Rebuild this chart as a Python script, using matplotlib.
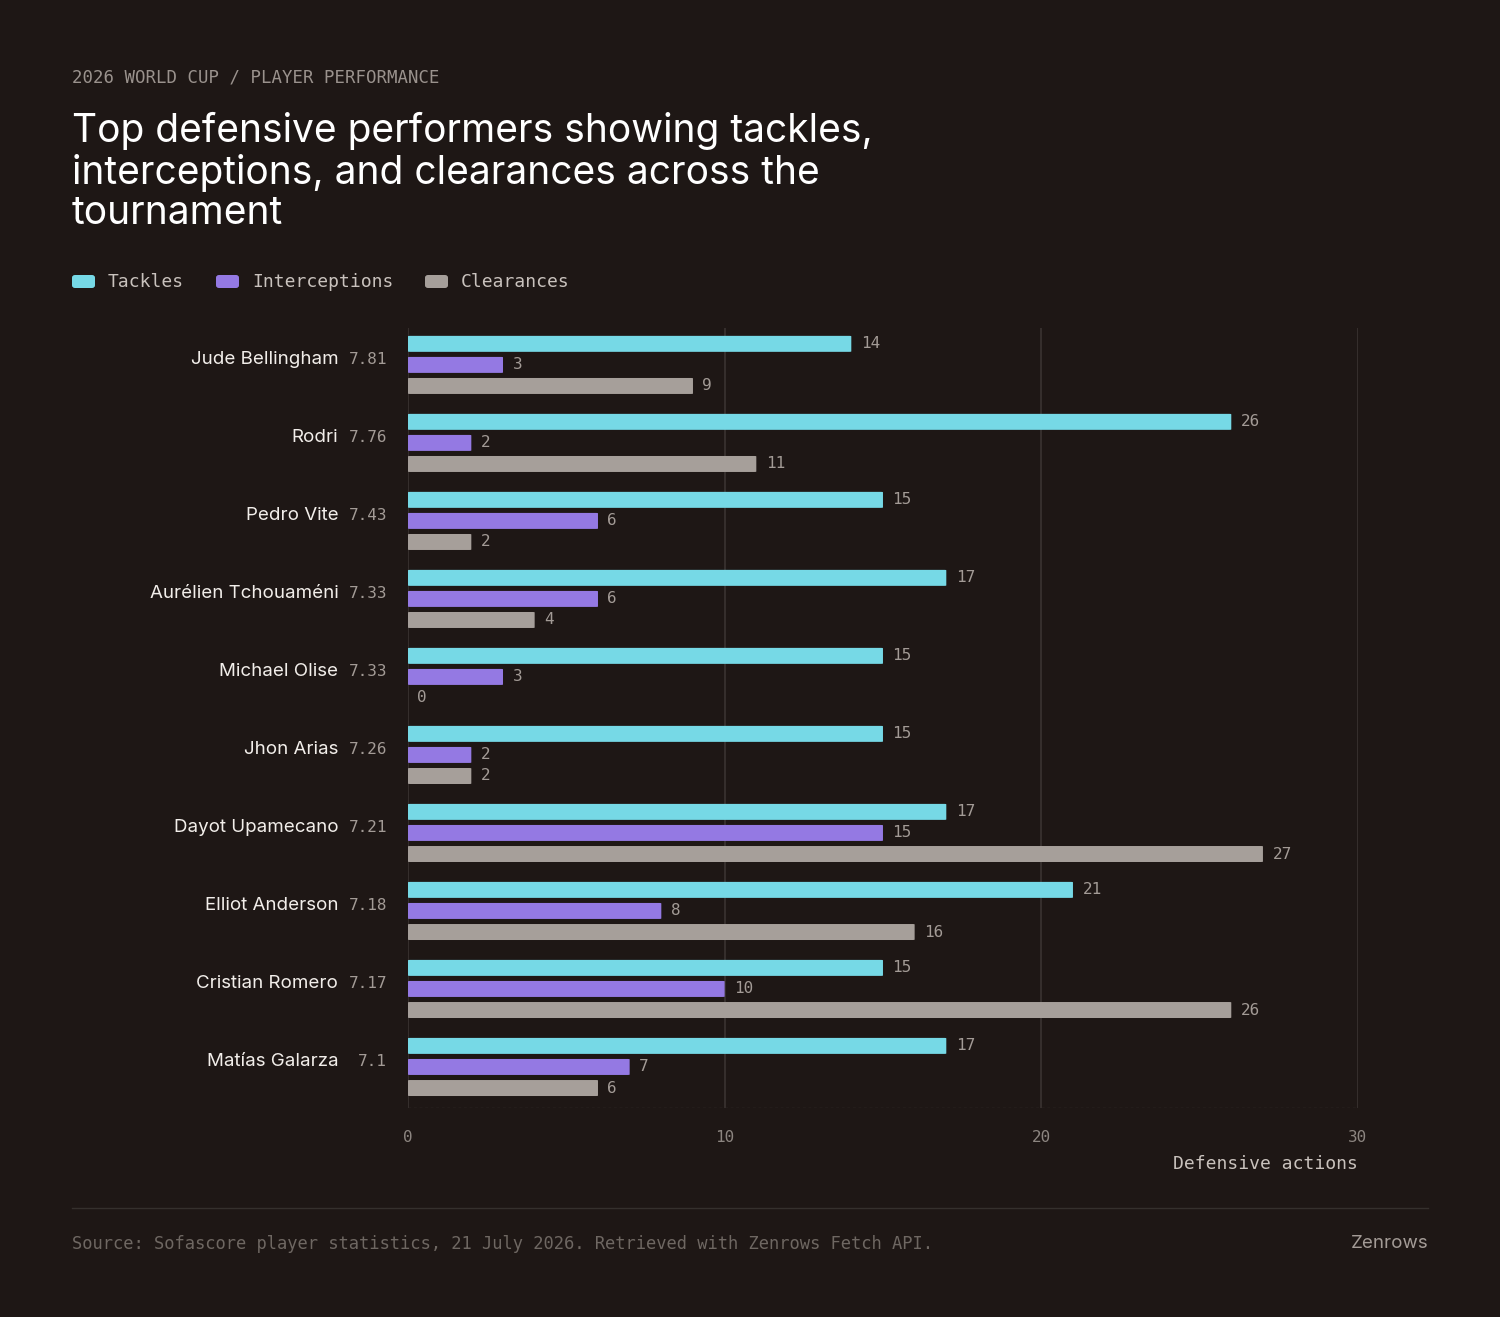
import numpy as np
import matplotlib
matplotlib.use('Agg')
import matplotlib.pyplot as plt
from matplotlib.patches import FancyBboxPatch

# data
players = ["Jude Bellingham", "Rodri", "Pedro Vite", "Aurélien Tchouaméni", "Michael Olise",
           "Jhon Arias", "Dayot Upamecano", "Elliot Anderson", "Cristian Romero", "Matías Galarza"]
ratings = ["7.81", "7.76", "7.43", "7.33", "7.33", "7.26", "7.21", "7.18", "7.17", "7.1"]
tackles = [14, 26, 15, 17, 15, 15, 17, 21, 15, 17]
interceptions = [3, 2, 6, 6, 3, 2, 15, 8, 10, 7]
clearances = [9, 11, 2, 4, 0, 2, 27, 16, 26, 6]
series_names = ["Tackles", "Interceptions", "Clearances"]
colors = ["#76d9e6", "#9479e3", "#a69f9a"]

BG = "#1e1715"
MONO = "DejaVu Sans Mono"
SANS = "Inter"

fig = plt.figure(figsize=(15, 13.17), dpi=100)
fig.patch.set_facecolor(BG)
ax = fig.add_axes([0.272, 0.1587, 0.6333, 0.5923])
ax.set_facecolor(BG)

offsets = [-0.27, 0.0, 0.27]
h = 0.205
for vals, off, c in zip([tackles, interceptions, clearances], offsets, colors):
    for i, v in enumerate(vals):
        y = i + off
        if v > 0:
            ax.add_patch(FancyBboxPatch((0, y - h / 2), v, h,
                                        boxstyle="round,pad=0,rounding_size=0.06",
                                        mutation_aspect=1 / 12, fc=c, ec="none", zorder=3))
        ax.text(v + 0.3, y, str(v), va="center", ha="left", color="#a39b96",
                fontsize=11.5, family=MONO, zorder=4)

for i, (p, r) in enumerate(zip(players, ratings)):
    ax.text(-0.66, i - 0.07, r, ha="right", va="center", color="#a39b96", fontsize=11.5, family=MONO)
    ax.text(-2.2, i - 0.07, p, ha="right", va="center", color="#f2eeea", fontsize=13.5, family=SANS)

ax.set_xlim(0, 30)
ax.set_ylim(9.526, -0.474)
ax.set_xticks([0, 10, 20, 30])
ax.set_xticklabels(["0", "10", "20", "30"], family=MONO, fontsize=11.5, color="#8c8580")
ax.set_yticks([])
ax.tick_params(axis="x", length=0, pad=16)
for x in [10, 20, 30]:
    ax.axvline(x, color="#3a3331", lw=1.2, zorder=1)
for s in ax.spines.values():
    s.set_visible(False)
ax.axvline(0, color="#3a3331", lw=1.2, zorder=1)
ax.axhline(9.526, color="#3a3331", lw=1, ls=(0, (2, 2)), zorder=1)
ax.set_xlabel("Defensive actions", family=MONO, fontsize=13, color="#c9c2bd", labelpad=10)
ax.xaxis.set_label_coords(1.0, -0.06)
ax.xaxis.label.set_ha("right")

# header
fig.text(72 / 1500, 1 - 77 / 1317, "2026 WORLD CUP / PLAYER PERFORMANCE", family=MONO,
         fontsize=12.5, color="#9a928d", va="center")
fig.text(72 / 1500, 1 - 112 / 1317,
         "Top defensive performers showing tackles,\ninterceptions, and clearances across the\ntournament",
         family=SANS, fontsize=28, color="#ffffff", va="top", linespacing=1.12)

# legend
lx = [72, 216, 425]
for x, name, c in zip(lx, series_names, colors):
    fig.patches.append(FancyBboxPatch((x / 1500, 1 - 288 / 1317), 23 / 1500, 13 / 1317,
                                      boxstyle="round,pad=0,rounding_size=0.002",
                                      transform=fig.transFigure, fc=c, ec="none"))
    fig.text((x + 36) / 1500, 1 - 282 / 1317, name, family=MONO, fontsize=13,
             color="#c9c2bd", va="center")

# footer
fig.add_artist(plt.Line2D([72 / 1500, 1428 / 1500], [1 - 1208 / 1317] * 2,
                          transform=fig.transFigure, color="#35302d", lw=1))
fig.text(72 / 1500, 1 - 1244 / 1317,
         "Source: Sofascore player statistics, 21 July 2026. Retrieved with Zenrows Fetch API.",
         family=MONO, fontsize=12.3, color="#6e6762", va="center")
fig.text(1428 / 1500, 1 - 1244 / 1317, "Zenrows", family=SANS, fontsize=13.5,
         color="#a39b96", va="center", ha="right")

fig.savefig("out.png", dpi=100, facecolor=BG)
